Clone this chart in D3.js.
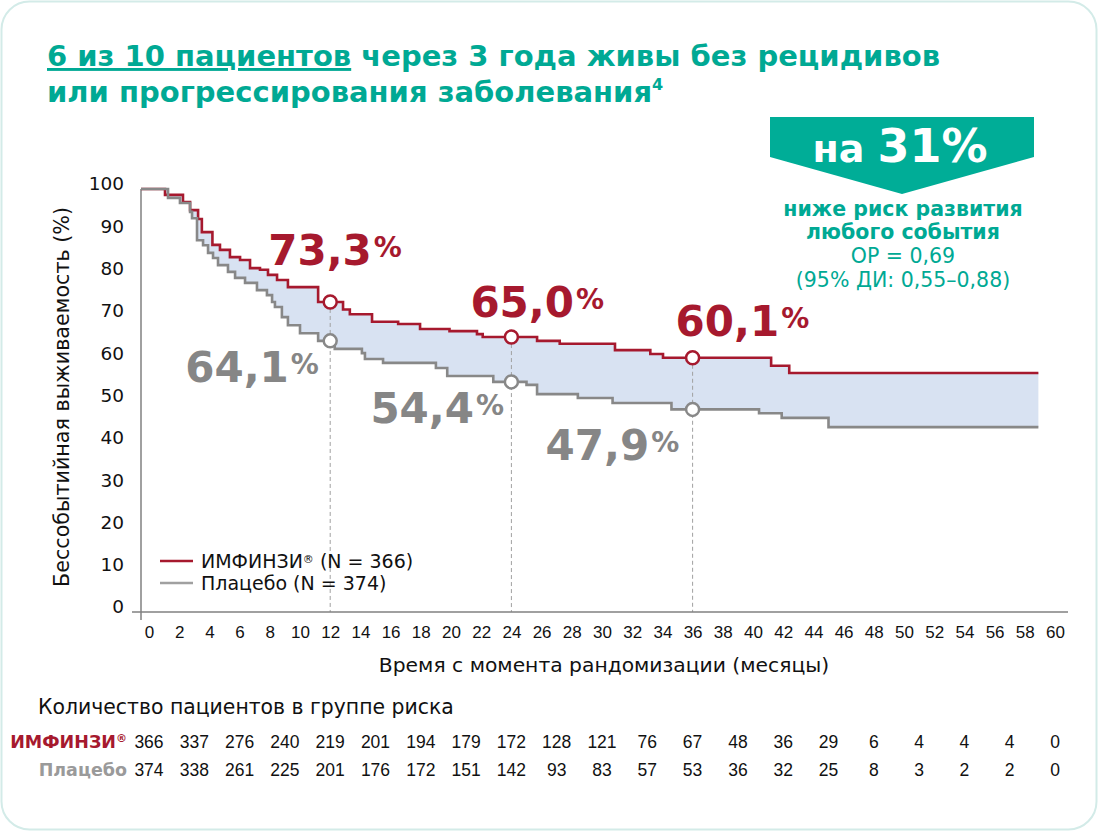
<!DOCTYPE html>
<html>
<head>
<meta charset="utf-8">
<script src="https://cdn.jsdelivr.net/npm/d3@7"></script>
<style>
  body { margin: 0; background: #fff; }
  svg { display: block; font-family: "DejaVu Sans", Verdana, sans-serif; }
</style>
</head>
<body>
<svg id="chart" width="1098" height="831"></svg>
<script>
// ИМФИНЗИ – ступенчатая кривая (месяцы, %)
const imfinziTimes = [0, 1.06, 2.25, 2.72, 3.25, 3.5, 4.2, 4.7, 5.36, 6.03, 6.69, 7.35, 7.88, 8.48, 9.2,
  11.2, 12.85, 13.3, 14.77, 16.5, 17.95, 19.9, 21.72, 22.1, 25.7, 27.2, 30.86, 33.2, 34.04, 41.2, 42.4];
const imfinziValues = [100, 98.6, 96.9, 95.0, 92.9, 89.8, 86.8, 85.6, 83.9, 83.2, 81.3, 80.9, 79.7, 78.5, 76.8,
  73.3, 71.5, 70.4, 68.6, 68.1, 66.9, 66.4, 65.7, 65.0, 64.1, 63.4, 61.9, 61.0, 60.1, 58.2, 56.5];

// Плацебо
const placeboTimes = [0, 1.26, 2.05, 2.72, 2.85, 3.18, 3.58, 3.91, 4.24, 4.57, 5.23, 5.7, 6.36, 7.15, 7.81,
  8.15, 8.34, 8.8, 9.2, 10.0, 11.2, 12.3, 14.1, 14.3, 15.5, 19.0, 19.75, 22.8, 25.0, 25.7, 28.4, 30.7,
  34.6, 40.4, 41.9, 45.0];
const placeboValues = [100, 97.9, 96.7, 94.6, 93.1, 87.9, 86.7, 84.9, 83.7, 82.0, 80.4, 79.0, 77.8, 76.1, 74.9,
  73.3, 72.1, 69.7, 67.8, 65.9, 64.1, 62.2, 61.2, 59.8, 58.9, 57.7, 55.8, 54.4, 53.7, 51.5, 50.6, 49.4,
  47.9, 47.0, 45.9, 43.7];

const followUpEnd = 58.9;

// Контрольные точки
const landmarkMonths = [12, 24, 36];
const imfinziLandmarks = [73.3, 65.0, 60.1];
const placeboLandmarks = [64.1, 54.4, 47.9];
const imfinziLabels = ["73,3", "65,0", "60,1"];
const placeboLabels = ["64,1", "54,4", "47,9"];

// Оси
const yTicks = [0, 10, 20, 30, 40, 50, 60, 70, 80, 90, 100];
const xTicks = [0, 2, 4, 6, 8, 10, 12, 14, 16, 18, 20, 22, 24, 26, 28, 30, 32, 34, 36, 38, 40, 42, 44, 46, 48, 50, 52, 54, 56, 58, 60];

// Число пациентов в группе риска
const riskMonths = [0, 3, 6, 9, 12, 15, 18, 21, 24, 27, 30, 33, 36, 39, 42, 45, 48, 51, 54, 57, 60];
const imfinziRisk = [366, 337, 276, 240, 219, 201, 194, 179, 172, 128, 121, 76, 67, 48, 36, 29, 6, 4, 4, 4, 0];
const placeboRisk = [374, 338, 261, 225, 201, 176, 172, 151, 142, 93, 83, 57, 53, 36, 32, 25, 8, 3, 2, 2, 0];

const teal = "#00a994";
const red = "#a6192e";
const grey = "#888888";
const greyText = "#868686";
const fillBlue = "#d8e2f2";

const svg = d3.select("#chart");

// рамка карточки
svg.append("rect")
  .attr("x", 1.5).attr("y", 1.5)
  .attr("width", 1095).attr("height", 828)
  .attr("rx", 28)
  .attr("fill", "#fff")
  .attr("stroke", "#d3ebe8")
  .attr("stroke-width", 2);

// заголовок
const t1 = svg.append("text")
  .attr("x", 47).attr("y", 66)
  .attr("fill", teal).attr("font-weight", "bold").attr("font-size", 29);
t1.append("tspan").style("text-decoration", "underline").text("6 из 10 пациентов");
t1.append("tspan").text(" через 3 года живы без рецидивов");

const t2 = svg.append("text")
  .attr("x", 47).attr("y", 102)
  .attr("fill", teal).attr("font-weight", "bold").attr("font-size", 29);
t2.append("tspan").text("или прогрессирования заболевания");
t2.append("tspan").attr("font-size", 16).attr("dy", -12).text("4");

// плашка "на 31%"
svg.append("polygon")
  .attr("points", "770,117 1034,117 1034,157 902,194 770,157")
  .attr("fill", "#00ad97");

const badge = svg.append("text")
  .attr("x", 900).attr("y", 162)
  .attr("text-anchor", "middle")
  .attr("fill", "#fff").attr("font-weight", "bold");
badge.append("tspan").attr("font-size", 38).text("на ");
badge.append("tspan").attr("font-size", 46).text("31%");

const badgeLines = [
  { text: "ниже риск развития", y: 216, bold: true },
  { text: "любого события", y: 239, bold: true },
  { text: "ОР = 0,69", y: 263, bold: false },
  { text: "(95% ДИ: 0,55–0,88)", y: 287, bold: false }
];
svg.selectAll(".badge-line")
  .data(badgeLines)
  .enter()
  .append("text")
  .attr("class", "badge-line")
  .attr("x", 903)
  .attr("y", d => d.y)
  .attr("text-anchor", "middle")
  .attr("fill", teal)
  .attr("font-size", 20.5)
  .attr("font-weight", d => d.bold ? "bold" : "normal")
  .text(d => d.text);

// шкалы
const x = d3.scaleLinear().domain([-0.53, 60]).range([141, 1055]);
const y = d3.scaleLinear().domain([0, 100]).range([612, 189]);

// заливка между кривыми
function stepAt(times, values, t) {
  const i = d3.bisectRight(times, t) - 1;
  return values[Math.max(i, 0)];
}

const allTimes = Array.from(new Set(imfinziTimes.concat(placeboTimes, [followUpEnd]))).sort((a, b) => a - b);
const startX = x.domain()[0];

const area = d3.area()
  .curve(d3.curveStepAfter)
  .x(t => x(t === 0 ? startX : t))
  .y0(t => y(stepAt(placeboTimes, placeboValues, t)))
  .y1(t => y(stepAt(imfinziTimes, imfinziValues, t)));

svg.append("path")
  .datum(allTimes)
  .attr("d", area)
  .attr("fill", fillBlue);

// вертикальные пунктиры
svg.selectAll(".dash")
  .data(landmarkMonths)
  .enter()
  .append("line")
  .attr("x1", d => x(d)).attr("x2", d => x(d))
  .attr("y1", (d, i) => y(imfinziLandmarks[i]))
  .attr("y2", y(0))
  .attr("stroke", "#a0a0a0")
  .attr("stroke-width", 1)
  .attr("stroke-dasharray", "4,3");

// оси
const yAxis = d3.axisLeft(y).tickValues(yTicks).tickSize(0).tickPadding(17);
svg.append("g")
  .attr("transform", `translate(${x(startX)},-5)`)
  .call(yAxis)
  .call(g => g.select(".domain").remove())
  .call(g => g.selectAll("text")
    .attr("font-family", "DejaVu Sans")
    .attr("font-size", 18.5)
    .attr("fill", "#111"));

const xAxis = d3.axisBottom(x).tickValues(xTicks).tickSize(0).tickPadding(14);
svg.append("g")
  .attr("transform", `translate(0,${y(0)})`)
  .call(xAxis)
  .call(g => g.select(".domain").remove())
  .call(g => g.selectAll("text")
    .attr("font-family", "Liberation Sans, Arial, sans-serif")
    .attr("font-size", 17)
    .attr("fill", "#111"));

svg.append("line")
  .attr("x1", x(startX)).attr("x2", x(startX))
  .attr("y1", y(100)).attr("y2", y(0) + 8)
  .attr("stroke", "#808080").attr("stroke-width", 1.5);
svg.append("line")
  .attr("x1", x(startX) - 9).attr("x2", x(60) + 13)
  .attr("y1", y(0)).attr("y2", y(0))
  .attr("stroke", "#808080").attr("stroke-width", 1.5);

// кривые
const line = d3.line()
  .curve(d3.curveStepAfter)
  .x(d => x(d[0] === 0 ? startX : d[0]))
  .y(d => y(d[1]));

function curvePoints(times, values) {
  const pts = d3.zip(times, values);
  pts.push([followUpEnd, values[values.length - 1]]);
  return pts;
}

svg.append("path")
  .datum(curvePoints(imfinziTimes, imfinziValues))
  .attr("d", line)
  .attr("fill", "none")
  .attr("stroke", red)
  .attr("stroke-width", 2.6);

svg.append("path")
  .datum(curvePoints(placeboTimes, placeboValues))
  .attr("d", line)
  .attr("fill", "none")
  .attr("stroke", grey)
  .attr("stroke-width", 2.6);

// маркеры
function addMarkers(values, color) {
  svg.selectAll(null)
    .data(landmarkMonths)
    .enter()
    .append("circle")
    .attr("cx", d => x(d))
    .attr("cy", (d, i) => y(values[i]))
    .attr("r", 6.5)
    .attr("fill", "#fff")
    .attr("stroke", color)
    .attr("stroke-width", 2.5);
}
addMarkers(imfinziLandmarks, red);
addMarkers(placeboLandmarks, grey);

// подписи процентов
const redOffsets = [[-62, -37], [-41, -20], [-17, -22]];
const greyOffsets = [[-145, 41], [-141, 41], [-147, 51]];

function addValueLabels(values, labels, offsets, color) {
  const g = svg.selectAll(null)
    .data(landmarkMonths)
    .enter()
    .append("text")
    .attr("x", (d, i) => x(d) + offsets[i][0])
    .attr("y", (d, i) => y(values[i]) + offsets[i][1])
    .attr("fill", color)
    .attr("font-weight", "bold")
    .attr("font-size", 42);
  g.append("tspan").text((d, i) => labels[i]);
  g.append("tspan").attr("font-size", 28).attr("dy", -8).attr("dx", 2).text("%");
}
addValueLabels(imfinziLandmarks, imfinziLabels, redOffsets, red);
addValueLabels(placeboLandmarks, placeboLabels, greyOffsets, greyText);

// легенда
const legendItems = [
  { name: "ИМФИНЗИ", sup: "®", rest: " (N = 366)", color: red, y: 561 },
  { name: "Плацебо", sup: "", rest: " (N = 374)", color: "#a0a0a0", y: 583 }
];
const legend = svg.selectAll(".legend")
  .data(legendItems)
  .enter()
  .append("g")
  .attr("class", "legend");
legend.append("line")
  .attr("x1", 160).attr("x2", 193)
  .attr("y1", d => d.y).attr("y2", d => d.y)
  .attr("stroke", d => d.color)
  .attr("stroke-width", 2.6);
const legendText = legend.append("text")
  .attr("x", 201)
  .attr("y", d => d.y + 7)
  .attr("font-size", 19)
  .attr("fill", "#111");
legendText.append("tspan").text(d => d.name);
legendText.append("tspan").attr("font-size", 11).attr("dy", -5).text(d => d.sup);
legendText.append("tspan").attr("dy", d => d.sup ? 5 : 0).text(d => d.rest);

// подписи осей
svg.append("text")
  .attr("transform", "translate(69,397) rotate(-90)")
  .attr("text-anchor", "middle")
  .attr("font-size", 20.7)
  .attr("fill", "#111")
  .text("Бессобытийная выживаемость (%)");

svg.append("text")
  .attr("x", 604).attr("y", 672)
  .attr("text-anchor", "middle")
  .attr("font-size", 20.3)
  .attr("fill", "#111")
  .text("Время с момента рандомизации (месяцы)");

// таблица риска
svg.append("text")
  .attr("x", 38).attr("y", 714)
  .attr("font-size", 20.4)
  .attr("fill", "#111")
  .text("Количество пациентов в группе риска");

const riskRows = [
  { label: "ИМФИНЗИ", sup: "®", values: imfinziRisk, color: red, y: 748 },
  { label: "Плацебо", sup: "", values: placeboRisk, color: "#9a9a9a", y: 776 }
];

riskRows.forEach(row => {
  const lbl = svg.append("text")
    .attr("x", 127).attr("y", row.y)
    .attr("text-anchor", "end")
    .attr("font-size", 17.5)
    .attr("font-weight", "bold")
    .attr("fill", row.color);
  lbl.append("tspan").text(row.label);
  if (row.sup) lbl.append("tspan").attr("font-size", 11).attr("dy", -6).text(row.sup);

  svg.selectAll(null)
    .data(row.values)
    .enter()
    .append("text")
    .attr("x", (d, i) => x(riskMonths[i]))
    .attr("y", row.y)
    .attr("text-anchor", "middle")
    .attr("font-family", "Liberation Sans, Arial, sans-serif")
    .attr("font-size", 17.5)
    .attr("fill", "#111")
    .text(d => d);
});
</script>
</body>
</html>
